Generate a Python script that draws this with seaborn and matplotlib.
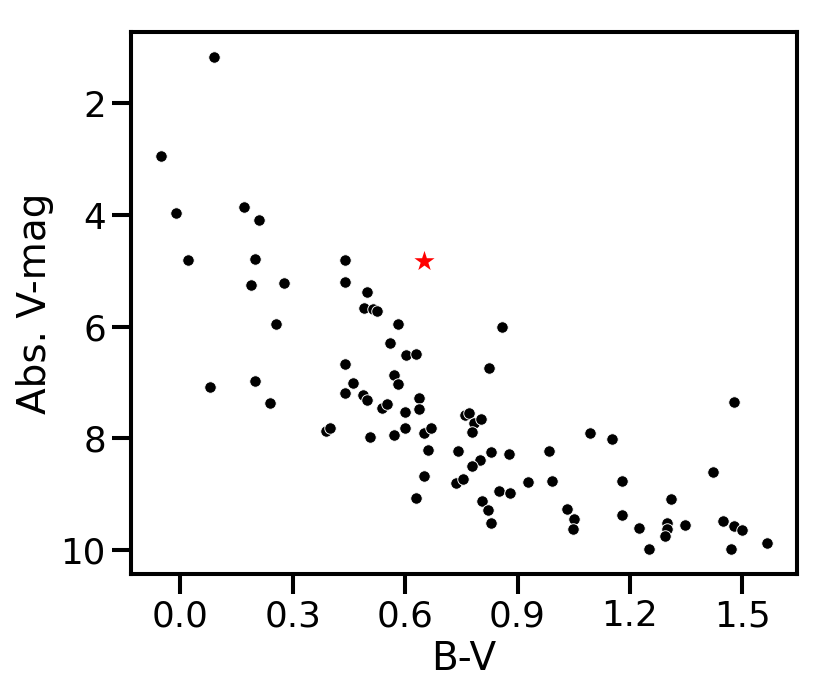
import numpy as np
import pandas as pd
import matplotlib
matplotlib.use("Agg")
import matplotlib.pyplot as plt
import seaborn as sns

# ------------------- Data ------------------- #

# colour index B-V of the stars
b_v = [0.090, -0.051, -0.013, 0.169, 0.209, 0.021, 0.199, 0.440, 0.189, 0.276,
       0.440, 0.499, 0.490, 0.515, 0.525, 0.256, 0.580, 0.560, 0.601, 0.629,
       0.440, 0.569, 0.582, 0.460, 0.079, 0.199, 0.440, 0.487, 0.499, 0.240,
       0.539, 0.551, 0.638, 0.638, 0.599, 0.389, 0.400, 0.505, 0.569, 0.599,
       0.649, 0.670, 0.661, 0.740, 0.649, 0.629, 0.736, 0.754, 0.859, 0.824,
       0.759, 0.770, 0.785, 0.803, 0.779, 0.830, 0.877, 0.800, 0.779, 0.984,
       0.929, 0.992, 0.850, 0.880, 0.805, 0.820, 0.830, 1.093, 1.151, 1.479,
       1.423, 1.179, 1.310, 1.032, 1.052, 1.048, 1.179, 1.225, 1.250, 1.299,
       1.299, 1.295, 1.347, 1.449, 1.477, 1.500, 1.471, 1.565]

# absolute visual magnitude of the stars
abs_vmag = [1.16, 2.94, 3.97, 3.86, 4.08, 4.80, 4.78, 4.80, 5.25, 5.21,
            5.20, 5.38, 5.66, 5.69, 5.71, 5.95, 5.95, 6.30, 6.51, 6.48,
            6.66, 6.87, 7.02, 7.01, 7.08, 6.97, 7.18, 7.22, 7.31, 7.36,
            7.46, 7.38, 7.27, 7.48, 7.53, 7.86, 7.81, 7.97, 7.94, 7.81,
            7.91, 7.81, 8.20, 8.22, 8.67, 9.07, 8.80, 8.73, 6.00, 6.74,
            7.58, 7.55, 7.72, 7.66, 7.89, 8.24, 8.28, 8.39, 8.49, 8.22,
            8.78, 8.76, 8.94, 8.98, 9.13, 9.28, 9.52, 7.91, 8.01, 7.34,
            8.61, 8.76, 9.08, 9.26, 9.45, 9.62, 9.37, 9.60, 9.99, 9.51,
            9.62, 9.75, 9.55, 9.48, 9.57, 9.65, 9.98, 9.87]

# the Sun
sun_b_v = [0.65]
sun_vmag = [4.83]

stars = pd.DataFrame({"B-V": b_v, "Abs. V-mag": abs_vmag})
sun = pd.DataFrame({"B-V": sun_b_v, "Abs. V-mag": sun_vmag})

# ------------------- Plot ------------------- #

sns.set_theme(context="poster", style="ticks")
plt.rcParams['font.family'] = ['DejaVu Sans']
plt.rcParams['text.color'] = 'black'
plt.rcParams['axes.labelcolor'] = 'black'
plt.rcParams['xtick.color'] = 'black'
plt.rcParams['ytick.color'] = 'black'
plt.rcParams['axes.edgecolor'] = 'black'

dpi = 117
fig, ax = plt.subplots(figsize=(830 / dpi, 695 / dpi), dpi=dpi)
fig.subplots_adjust(left=0.158, right=0.960, top=0.954, bottom=0.174)

sns.scatterplot(data=stars, x="B-V", y="Abs. V-mag", color="black", s=50, ax=ax)
sns.scatterplot(data=sun, x="B-V", y="Abs. V-mag", color="red", marker="*",
                s=170, linewidth=0, ax=ax)

ax.invert_yaxis()
ax.set_xticks([0.0, 0.3, 0.6, 0.9, 1.2, 1.5])
ax.set_yticks([2, 4, 6, 8, 10])
ax.set_xlabel("B-V")
ax.set_ylabel("Abs. V-mag")

fig.savefig("out.png", dpi=dpi)
